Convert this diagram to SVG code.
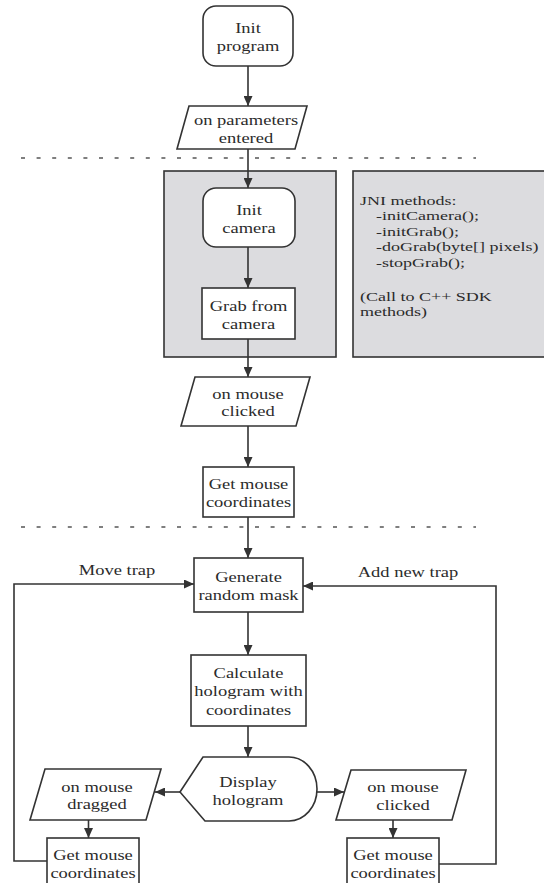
<svg xmlns="http://www.w3.org/2000/svg" width="544" height="883" viewBox="0 0 544 883">
  <style>
    .box { fill: #ffffff; stroke: #333333; stroke-width: 1.6; }
    .panel { fill: #dcdcdf; stroke: #333333; stroke-width: 1.6; }
    .link { fill: none; stroke: #333333; stroke-width: 1.6; }
    .sep { fill: none; stroke: #555555; stroke-width: 1.4; stroke-dasharray: 4 11.6; }
    text { font-family: "Liberation Serif", "Times New Roman", serif; font-size: 18.5px; fill: #2b2b2b; }
    .c { text-anchor: middle; }
    .note { font-size: 17px; }
  </style>
  <defs>
    <marker id="arrow" markerUnits="userSpaceOnUse" markerWidth="11" markerHeight="9" refX="10" refY="4.5" orient="auto">
      <path d="M0,0 L10,4.5 L0,9 Z" fill="#333333"/>
    </marker>
  </defs>
  <rect width="544" height="883" fill="#ffffff"/>

  <!-- section separators -->
  <line class="sep" x1="21" y1="158" x2="476" y2="158"/>
  <line class="sep" x1="21" y1="527" x2="476" y2="527"/>

  <!-- shaded panels -->
  <g id="camera-panel">
    <rect class="panel" x="164" y="171" width="172" height="186"/>
  </g>
  <g id="jni-note">
    <rect class="panel" x="353" y="171" width="200" height="186"/>
    <!-- note lines are set tight, so the glyphs are flattened; line steps are divided by the y factor -->
    <text class="note" transform="translate(360 205) scale(1.06 .79)"><tspan x="0" y="0">JNI methods:</tspan><tspan x="15.1" y="19.62">-initCamera();</tspan><tspan x="15.1" y="39.24">-initGrab();</tspan><tspan x="15.1" y="58.86">-doGrab(byte[] pixels)</tspan><tspan x="15.1" y="78.48">-stopGrab();</tspan><tspan x="0" y="121.5">(Call to C++ SDK</tspan><tspan x="0" y="141.1">methods)</tspan></text>
  </g>

  <!-- connectors -->
  <g id="connectors">
    <line class="link" x1="248" y1="66" x2="248" y2="106" marker-end="url(#arrow)"/>
    <line class="link" x1="248" y1="149" x2="248" y2="188" marker-end="url(#arrow)"/>
    <line class="link" x1="248" y1="247" x2="248" y2="288" marker-end="url(#arrow)"/>
    <line class="link" x1="248" y1="339" x2="248" y2="377" marker-end="url(#arrow)"/>
    <line class="link" x1="248" y1="426" x2="248" y2="467" marker-end="url(#arrow)"/>
    <line class="link" x1="248" y1="517" x2="248" y2="558" marker-end="url(#arrow)"/>
    <line class="link" x1="248" y1="612" x2="248" y2="655" marker-end="url(#arrow)"/>
    <line class="link" x1="248" y1="726" x2="248" y2="757" marker-end="url(#arrow)"/>
    <line class="link" x1="180" y1="792" x2="155" y2="792" marker-end="url(#arrow)"/>
    <line class="link" x1="317" y1="792" x2="344" y2="792" marker-end="url(#arrow)"/>
    <line class="link" x1="88.5" y1="820" x2="88.5" y2="838" marker-end="url(#arrow)"/>
    <line class="link" x1="393" y1="820" x2="393" y2="838" marker-end="url(#arrow)"/>
    <polyline class="link" points="47,861 14,861 14,584 194,584" marker-end="url(#arrow)"/>
    <polyline class="link" points="439,864 496,864 496,586 303,586" marker-end="url(#arrow)"/>
    <text class="c" transform="translate(117 575) scale(1 .84)">Move trap</text>
    <text class="c" transform="translate(408 577) scale(1 .84)">Add new trap</text>
  </g>

  <!-- nodes -->
  <g id="init-program">
    <rect class="box" x="203" y="6" width="90" height="60" rx="13"/>
    <text class="c" transform="translate(248 33) scale(1 .84)"><tspan x="0" y="0">Init</tspan><tspan x="0" y="21.43">program</tspan></text>
  </g>
  <g id="on-parameters-entered">
    <polygon class="box" points="189,106 307,106 295,149 177,149"/>
    <text class="c" transform="translate(246 125) scale(1 .84)"><tspan x="0" y="0">on parameters</tspan><tspan x="0" y="21.43">entered</tspan></text>
  </g>
  <g id="init-camera">
    <rect class="box" x="203" y="188" width="92" height="59" rx="13"/>
    <text class="c" transform="translate(249 215) scale(1 .84)"><tspan x="0" y="0">Init</tspan><tspan x="0" y="21.43">camera</tspan></text>
  </g>
  <g id="grab-from-camera">
    <rect class="box" x="202" y="288" width="93" height="51"/>
    <text class="c" transform="translate(248.5 311) scale(1 .84)"><tspan x="0" y="0">Grab from</tspan><tspan x="0" y="21.43">camera</tspan></text>
  </g>
  <g id="on-mouse-clicked-1">
    <polygon class="box" points="195,377 310,377 296,426 181,426"/>
    <text class="c" transform="translate(248 398.5) scale(1 .84)"><tspan x="0" y="0">on mouse</tspan><tspan x="0" y="21.43">clicked</tspan></text>
  </g>
  <g id="get-mouse-coordinates-1">
    <rect class="box" x="203" y="467" width="91" height="50"/>
    <text class="c" transform="translate(248.5 489) scale(1 .84)"><tspan x="0" y="0">Get mouse</tspan><tspan x="0" y="21.43">coordinates</tspan></text>
  </g>
  <g id="generate-random-mask">
    <rect class="box" x="194" y="558" width="109" height="54"/>
    <text class="c" transform="translate(248.5 582) scale(1 .84)"><tspan x="0" y="0">Generate</tspan><tspan x="0" y="21.43">random mask</tspan></text>
  </g>
  <g id="calculate-hologram">
    <rect class="box" x="191" y="655" width="115" height="71"/>
    <text class="c" transform="translate(248.5 678) scale(1 .84)"><tspan x="0" y="0">Calculate</tspan><tspan x="0" y="22">hologram with</tspan><tspan x="0" y="44">coordinates</tspan></text>
  </g>
  <g id="display-hologram">
    <path class="box" d="M203,757 L289,757 A28,32 0 0 1 289,821 L205,821 L180,792 Z"/>
    <text class="c" transform="translate(248 787) scale(1 .84)"><tspan x="0" y="0">Display</tspan><tspan x="0" y="21.43">hologram</tspan></text>
  </g>
  <g id="on-mouse-dragged">
    <polygon class="box" points="45,769 161,769 146,820 30,820"/>
    <text class="c" transform="translate(97 791.5) scale(1 .84)"><tspan x="0" y="0">on mouse</tspan><tspan x="0" y="21.43">dragged</tspan></text>
  </g>
  <g id="on-mouse-clicked-2">
    <polygon class="box" points="351,770 466,770 452,820 336,820"/>
    <text class="c" transform="translate(403 792) scale(1 .84)"><tspan x="0" y="0">on mouse</tspan><tspan x="0" y="21.43">clicked</tspan></text>
  </g>
  <g id="get-mouse-coordinates-2">
    <rect class="box" x="47" y="838" width="92" height="60"/>
    <text class="c" transform="translate(93 860) scale(1 .84)"><tspan x="0" y="0">Get mouse</tspan><tspan x="0" y="22">coordinates</tspan></text>
  </g>
  <g id="get-mouse-coordinates-3">
    <rect class="box" x="347" y="838" width="92" height="60"/>
    <text class="c" transform="translate(393 860) scale(1 .84)"><tspan x="0" y="0">Get mouse</tspan><tspan x="0" y="22">coordinates</tspan></text>
  </g>
</svg>
